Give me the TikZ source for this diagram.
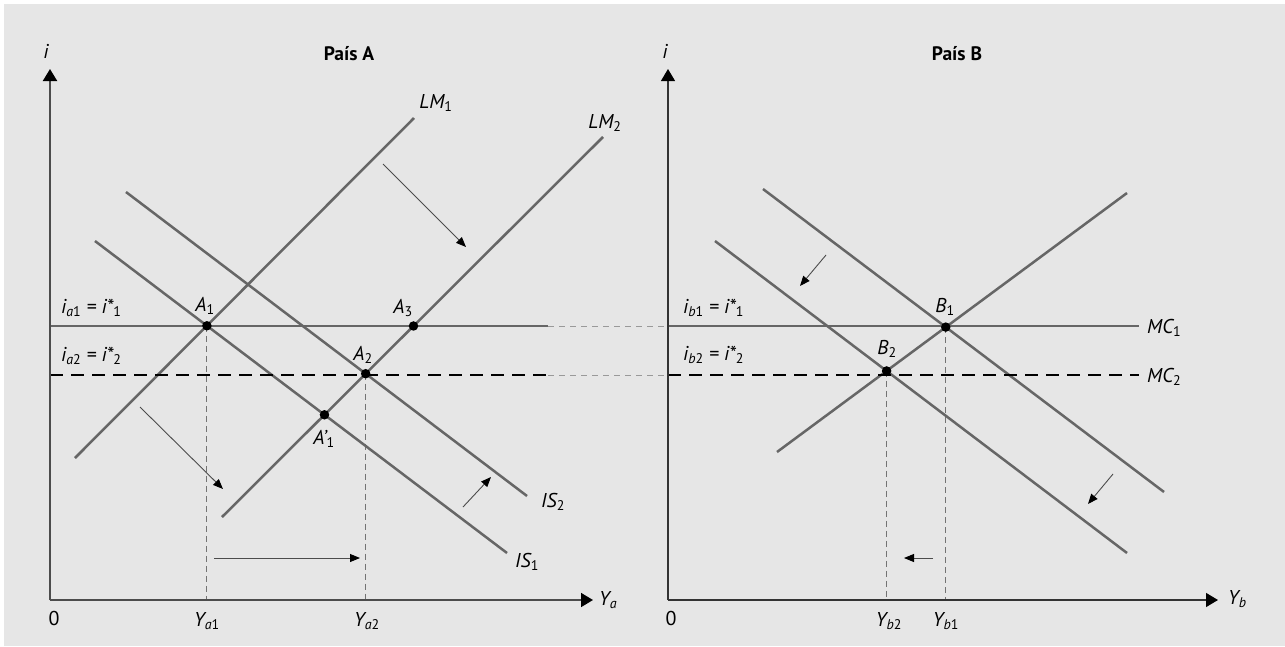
\documentclass[tikz,border=0pt]{standalone}
\usepackage{fontspec}
\setmainfont{PT Sans}
\usetikzlibrary{arrows.meta}
\definecolor{bg}{HTML}{E6E6E6}
\definecolor{curve}{HTML}{666666}
\newcommand{\mysub}[1]{\textsubscript{#1}}
\begin{document}
\begin{tikzpicture}[x=1pt,y=-1pt,
  curveline/.style={draw=curve, line width=2.5pt},
  axisA/.style={draw=black!70, line width=2pt, -{Triangle[length=12pt,width=14pt,black]}},
  axisB/.style={draw=black!80, line width=1.2pt, -{Triangle[length=12pt,width=14pt,black]}},
  shiftarrow/.style={draw=black!70, line width=0.9pt, -{Triangle[length=10pt,width=8pt,black]}},
  guide/.style={draw=black!55, line width=1pt, dash pattern=on 6pt off 4pt},
  bridge/.style={draw=black!40, line width=1pt, dash pattern=on 6pt off 5pt},
  ratetwo/.style={draw=black, line width=2.5pt, dash pattern=on 13pt off 8pt},
  eqdot/.style={circle, fill=black, inner sep=0pt, minimum size=9.5pt},
  lab/.style={font=\fontsize{20}{22}\selectfont\itshape, inner sep=0pt, anchor=base},
  plain/.style={font=\fontsize{20}{22}\selectfont, inner sep=0pt, anchor=base},
  paneltitle/.style={font=\fontsize{19.5}{22}\selectfont\bfseries, inner sep=0pt, anchor=base},
]
\useasboundingbox (0,0) rectangle (1285,646);
\fill[white] (0,0) rectangle (1285,646);
\fill[bg] (4,4) rectangle (1285,646);

% ---------- coordinates ----------
\coordinate (OA) at (50,600);  \coordinate (YA) at (50,69);  \coordinate (XA) at (593,600);
\coordinate (R1s) at (50,326); \coordinate (R1e) at (548,326);
\coordinate (R2s) at (50,375); \coordinate (R2e) at (548,375);
\coordinate (OB) at (668,600); \coordinate (YB) at (668,69); \coordinate (XB) at (1218,600);
\coordinate (M1s) at (668,326); \coordinate (M1e) at (1139,326);
\coordinate (M2s) at (668,375); \coordinate (M2e) at (1139,375);
\coordinate (LM1a) at (75,458);  \coordinate (LM1b) at (414,118);
\coordinate (LM2a) at (222,517); \coordinate (LM2b) at (603,137);
\coordinate (IS1a) at (95,241);  \coordinate (IS1b) at (507,553);
\coordinate (IS2a) at (126,192); \coordinate (IS2b) at (527,496);
\coordinate (UPa) at (777,452);  \coordinate (UPb) at (1127,193);
\coordinate (DOa) at (763,189);  \coordinate (DOb) at (1164,492);
\coordinate (DIa) at (715,241);  \coordinate (DIb) at (1127,553);

\coordinate (A1) at (intersection of LM1a--LM1b and IS1a--IS1b);
\coordinate (A2) at (intersection of LM2a--LM2b and IS2a--IS2b);
\coordinate (A3) at (intersection of LM2a--LM2b and R1s--R1e);
\coordinate (A1p) at (intersection of LM2a--LM2b and IS1a--IS1b);
\coordinate (B1) at (intersection of UPa--UPb and DOa--DOb);
\coordinate (B2) at (intersection of UPa--UPb and DIa--DIb);

% ---------- bridges between panels ----------
\draw[bridge] (R1e) -- (M1s);
\draw[bridge] (R2e) -- (M2s);

% ---------- guides ----------
\draw[guide] (A1) -- (A1 |- OA);
\draw[guide] (A2) -- (A2 |- OA);
\draw[guide] (B1) -- (B1 |- OB);
\draw[guide] (B2) -- (B2 |- OB);

% ---------- curves ----------
\draw[curveline] (LM1a) -- (LM1b);
\draw[curveline] (LM2a) -- (LM2b);
\draw[curveline] (IS1a) -- (IS1b);
\draw[curveline] (IS2a) -- (IS2b);
\draw[curveline] (R1s) -- (R1e);
\draw[ratetwo] (R2s) -- (R2e);

\draw[curveline] (UPa) -- (UPb);
\draw[curveline] (DOa) -- (DOb);
\draw[curveline] (DIa) -- (DIb);
\draw[curveline] (M1s) -- (M1e);
\draw[ratetwo] (M2s) -- (M2e);

% ---------- axes ----------
\draw[axisA] (OA) -- (YA);
\draw[axisA, line width=1.6pt] (OA) -- (XA);
\draw[axisB, line width=1.1pt] (OB) -- (YB);
\draw[axisB] (OB) -- (XB);

% ---------- shift arrows ----------
\coordinate (s1a) at (383,164); \coordinate (s1b) at (466,247);
\coordinate (s2a) at (140,407); \coordinate (s2b) at (223,489);
\coordinate (s3a) at (214,558); \coordinate (s3b) at (360,558);
\coordinate (s4a) at (463,507); \coordinate (s4b) at (491,477);
\coordinate (s5a) at (826,255); \coordinate (s5b) at (800,286);
\coordinate (s6a) at (1113,474); \coordinate (s6b) at (1088,504);
\coordinate (s7a) at (933,558); \coordinate (s7b) at (904,558);
\draw[shiftarrow] (s1a) -- (s1b);
\draw[shiftarrow] (s2a) -- (s2b);
\draw[shiftarrow] (s3a) -- (s3b);
\draw[shiftarrow] (s4a) -- (s4b);
\draw[shiftarrow] (s5a) -- (s5b);
\draw[shiftarrow] (s6a) -- (s6b);
\draw[shiftarrow] (s7a) -- (s7b);

% ---------- dots ----------
\node[eqdot] (dA1) at (A1) {};
\node[eqdot] (dA2) at (A2) {};
\node[eqdot] (dA3) at (A3) {};
\node[eqdot] (dA1p) at (A1p) {};
\node[eqdot] (dB1) at (B1) {};
\node[eqdot] (dB2) at (B2) {};

% ---------- labels, panel A ----------
\node[paneltitle] (tA) at (349,60) {País A};
\node[lab] (iA) at (46,58) {i};
\node[plain] (zA) at (54,625) {0};
\node[lab, anchor=base west] (YaL) at (599,605) {Y\mysub{a}};
\node[lab] (Ya1) at (207,626) {Y\mysub{a\textup{1}}};
\node[lab] (Ya2) at (367,626) {Y\mysub{a\textup{2}}};
\node[lab, anchor=base west] (ra1) at (61,313) {i\mysub{a\textup{1}} = i*\mysub{\textup{1}}};
\node[lab, anchor=base west] (ra2) at (61,361) {i\mysub{a\textup{2}} = i*\mysub{\textup{2}}};
\node[lab] (lA1) at (205,311) {A\mysub{\textup{1}}};
\node[lab] (lA3) at (403,313) {A\mysub{\textup{3}}};
\node[lab] (lA2) at (363,360) {A\mysub{\textup{2}}};
\node[lab] (lA1p) at (324,444) {A'\mysub{\textup{1}}};
\node[lab] (lLM1) at (436,108) {LM\mysub{\textup{1}}};
\node[lab] (lLM2) at (605,128) {LM\mysub{\textup{2}}};
\node[lab] (lIS1) at (527,567) {IS\mysub{\textup{1}}};
\node[lab] (lIS2) at (553,507) {IS\mysub{\textup{2}}};

% ---------- labels, panel B ----------
\node[paneltitle] (tB) at (957,60) {País B};
\node[lab] (iB) at (665,58) {i};
\node[plain] (zB) at (671,625) {0};
\node[lab, anchor=base west] (YbL) at (1228,604) {Y\mysub{b}};
\node[lab] (Yb2) at (889,626) {Y\mysub{b\textup{2}}};
\node[lab] (Yb1) at (946,626) {Y\mysub{b\textup{1}}};
\node[lab, anchor=base west] (rb1) at (683,313) {i\mysub{b\textup{1}} = i*\mysub{\textup{1}}};
\node[lab, anchor=base west] (rb2) at (683,360) {i\mysub{b\textup{2}} = i*\mysub{\textup{2}}};
\node[lab] (lB1) at (945,312) {B\mysub{\textup{1}}};
\node[lab] (lB2) at (887,354) {B\mysub{\textup{2}}};
\node[lab, anchor=base west] (lMC1) at (1147,333) {MC\mysub{\textup{1}}};
\node[lab, anchor=base west] (lMC2) at (1147,382) {MC\mysub{\textup{2}}};
\end{tikzpicture}
\end{document}
